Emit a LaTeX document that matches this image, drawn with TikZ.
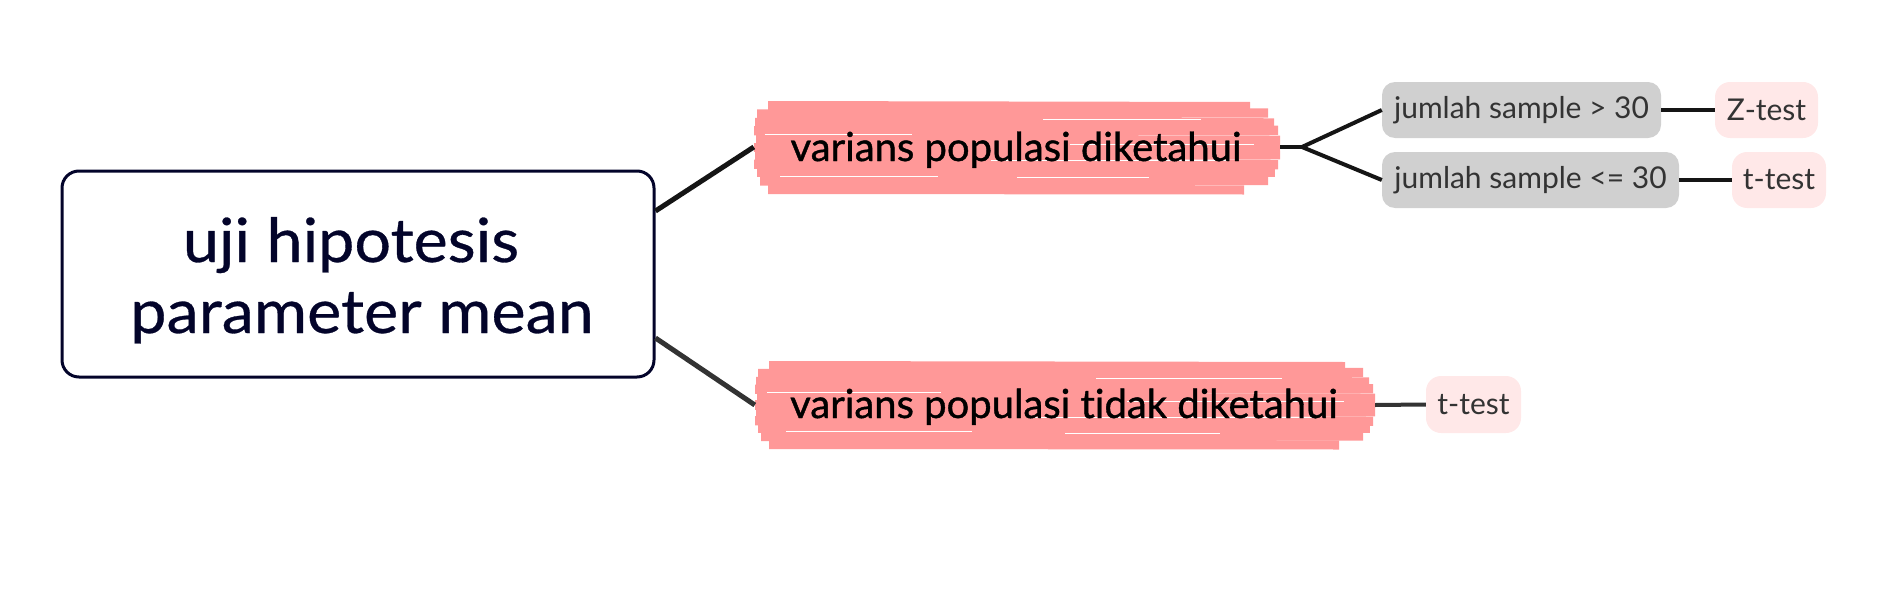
\documentclass[tikz,border=0pt]{standalone}
\usepackage{fontspec}
\setmainfont{Lato}[Ligatures={NoCommon}]
\newfontfamily\rootfont{Lato}[Ligatures={NoCommon}, FakeStretch=1.06, FakeBold=0.5]
\newfontfamily\medfont{Lato}[Ligatures={NoCommon}, FakeBold=1.0]
\definecolor{navy}{HTML}{03042A}
\definecolor{brush}{HTML}{FF9898}
\definecolor{graybox}{HTML}{D0D0D0}
\definecolor{lightpink}{HTML}{FFE8E8}
\definecolor{softtext}{HTML}{333333}
\definecolor{linedark}{HTML}{151515}
\definecolor{linegray}{HTML}{333333}
\newcommand\brushpaint[4]{%
  \foreach \t/\dl/\dr/\tl in {0/14/30/1,0.1/3/12/-1,0.2/1/6/0.5,0.3/0/2/-0.5,0.4/2/0/1,0.5/0/0/0,0.6/1/0/-1,0.7/0/2/0.5,0.8/3/5/0,0.9/6/12/-0.5,1/14/36/0.5}{%
    \draw[brush, line width=9.2, line cap=butt]
      ({#1+\dl},{#3+4.6+\t*(#4-#3-9.2)}) -- ({#2-\dr},{#3+4.6+\t*(#4-#3-9.2)+\tl});
  }%
  \foreach \t/\a/\b in {0.16/0.55/0.85,0.34/0.02/0.3,0.46/0.6/0.95,0.66/0.45/0.9,0.84/0.05/0.35,0.86/0.5/0.75}{%
    \draw[white, line width=0.9]
      ({#1+\a*(#2-#1)},{#3+4.6+\t*(#4-#3-9.2)}) -- ({#1+\b*(#2-#1)},{#3+4.6+\t*(#4-#3-9.2)});
  }%
}
\tikzset{
  rootbox/.style={draw=navy, line width=3, rounded corners=17, inner sep=0, minimum width=592, minimum height=206},
  roottext/.style={anchor=base, text=navy, font=\rootfont\fontsize{61}{71}\selectfont, inner sep=0},
  brushnode/.style={inner sep=0},
  brushtext/.style={anchor=base, text=black, font=\medfont\fontsize{40}{48}\selectfont, inner sep=0},
  condbox/.style={fill=graybox, rounded corners=13, inner sep=0, minimum height=56, text=softtext, font=\fontsize{30}{36}\selectfont},
  testbox/.style={fill=lightpink, rounded corners=15, inner sep=0, minimum height=56, text=softtext, font=\fontsize{30}{36}\selectfont},
  mainlink/.style={line width=5},
  sublink/.style={line width=4, draw=linedark},
}
\begin{document}
\begin{tikzpicture}[x=1pt,y=-1pt]
\useasboundingbox (0,0) rectangle (1892,602);
% root
\node[rootbox] (root) at (358,274) {};
\node[roottext] (rt1) at (351,262) {uji hipotesis};
\node[roottext] (rt2) at (362,333) {parameter mean};
% brush nodes
\brushpaint{754}{1280}{101}{194}
\brushpaint{755}{1375}{361}{449}
\node[brushnode, minimum width=526, minimum height=92] (p1) at (1017,147) {};
\node[brushnode, minimum width=620, minimum height=88] (p2) at (1065,405) {};
\node[brushtext] (p1t) at (1016,161) {varians populasi diketahui};
\node[brushtext] (p2t) at (1064,418) {varians populasi tidak diketahui};
% condition boxes
\node[condbox, minimum width=279] (g1) at (1521.5,110) {jumlah sample > 30};
\node[condbox, minimum width=297] (g2) at (1530.5,180) {jumlah sample <= 30};
\node[testbox, minimum width=103] (z1) at (1766.5,110) {Z-test};
\node[testbox, minimum width=94] (t1) at (1779,180) {t-test};
\node[testbox, minimum width=95, minimum height=57] (t2) at (1473.5,404.5) {t-test};
% connectors
\draw[mainlink, draw=linedark] ([yshift=63]root.east) -- (p1.west);
\draw[mainlink, draw=linegray] ([yshift=-64]root.east) -- (p2.west);
\coordinate (junc) at (1302,147);
\draw[sublink] (p1.east) -- (junc);
\draw[sublink] (junc) -- (g1.west);
\draw[sublink] (junc) -- (g2.west);
\draw[sublink] (g1.east) -- (z1.west);
\draw[sublink] (g2.east) -- (t1.west);
\draw[sublink, draw=linegray] (p2.east) -- (t2.west);
\end{tikzpicture}
\end{document}
